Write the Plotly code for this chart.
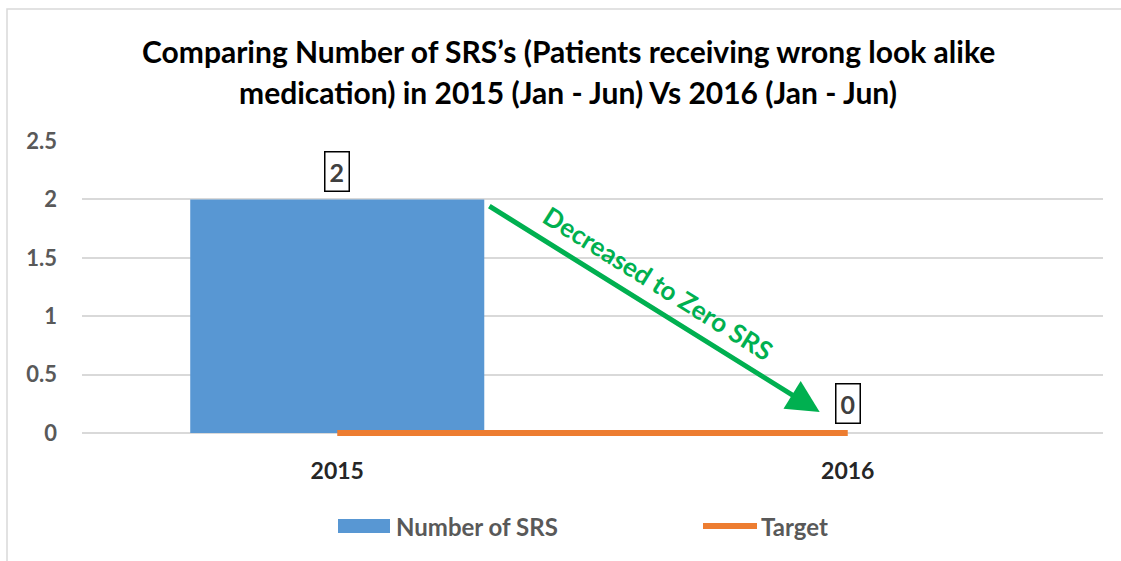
import plotly.graph_objects as go

categories = ["2015", "2016"]
srs_values = [2, 0]
target_values = [0, 0]
series_names = ["Number of SRS", "Target"]
title_lines = ["Comparing Number of SRS’s (Patients receiving wrong look alike",
               "medication) in 2015 (Jan - Jun) Vs 2016 (Jan - Jun)"]
arrow_text = "Decreased to Zero SRS"
y_ticks = [0, 0.5, 1, 1.5, 2, 2.5]

FONT = "Lato"
W, H = 1121, 561
L, R, T, B = 82, 18, 141, 125
PW, PH = W - L - R, H - T - B


def px(x):
    return (x - L) / PW


def py(y):
    return (H - B - y) / PH


fig = go.Figure()
fig.add_trace(go.Bar(
    x=categories, y=srs_values, name=series_names[0],
    marker=dict(color="#5897D3", line=dict(width=0)),
    showlegend=False,
))
fig.add_trace(go.Scatter(
    x=categories, y=target_values, name=series_names[1], mode="lines",
    line=dict(color="#ED7D31", width=6), showlegend=False,
))

# data labels
for i, v in enumerate(srs_values):
    fig.add_annotation(
        x=i, y=v, text=f"<b>{v}</b>", showarrow=False, yanchor="bottom",
        yshift=7 if v > 0 else 9,
        font=dict(family=FONT, size=25, color="#404040"),
        bordercolor="#000000", borderwidth=1.5, borderpad=4, bgcolor="white",
    )

# arrow
fig.add_annotation(
    x=0.945, y=0.18, ax=0.295, ay=1.95, xref="x", yref="y", axref="x", ayref="y",
    text="", showarrow=True, arrowhead=2, arrowsize=1.3, arrowwidth=5,
    arrowcolor="#00B050",
)
fig.add_annotation(
    x=px(658), y=py(283), xref="paper", yref="paper", text=f"<b>{arrow_text}</b>",
    showarrow=False, textangle=32,
    font=dict(family=FONT, size=26, color="#00B050"),
)

# title
for i, line in enumerate(title_lines):
    fig.add_annotation(
        x=px(568), y=py(51 + 41 * i), xref="paper", yref="paper",
        text=f"<b>{line}</b>", showarrow=False, xanchor="center", yanchor="middle",
        font=dict(family=FONT, size=30, color="#000000"),
    )

# legend (manual)
fig.add_shape(type="rect", xref="paper", yref="paper",
              x0=px(338), x1=px(390), y0=py(533), y1=py(519),
              fillcolor="#5897D3", line=dict(width=0))
fig.add_annotation(x=px(394), y=py(526), xref="paper", yref="paper",
                   text=f"<b>{series_names[0]}</b>", showarrow=False,
                   xanchor="left", yanchor="middle",
                   font=dict(family=FONT, size=24, color="#595959"))
fig.add_shape(type="line", xref="paper", yref="paper",
              x0=px(703), x1=px(757), y0=py(526), y1=py(526),
              line=dict(color="#ED7D31", width=6))
fig.add_annotation(x=px(759), y=py(526), xref="paper", yref="paper",
                   text=f"<b>{series_names[1]}</b>", showarrow=False,
                   xanchor="left", yanchor="middle",
                   font=dict(family=FONT, size=24, color="#595959"))

# outer frame
fig.add_shape(type="rect", xref="paper", yref="paper",
              x0=px(7), x1=px(1140), y0=py(600), y1=py(9),
              line=dict(color="#D9D9D9", width=1.5), layer="below")

fig.update_layout(
    width=W, height=H,
    margin=dict(l=L, r=R, t=T, b=B),
    plot_bgcolor="white", paper_bgcolor="white",
    bargap=0.424, showlegend=False,
    font=dict(family=FONT),
)
fig.update_xaxes(
    type="category", categoryorder="array", categoryarray=categories,
    range=[-0.5, 1.5], showgrid=False, showline=False, zeroline=False,
    tickfont=dict(family=FONT, size=23, color="#262626"),
    tickprefix="<b>", ticksuffix="</b>", ticklabelstandoff=19, ticks="",
)
fig.update_yaxes(
    range=[-0.025, 2.5], tickvals=y_ticks, ticktext=[f"<b>{t:g}</b>" for t in y_ticks],
    showgrid=True, gridcolor="#D9D9D9", gridwidth=1.5, zeroline=False,
    tickfont=dict(family=FONT, size=22, color="#595959"), ticklabelstandoff=24,
    ticks="",
)

fig.write_html("out.html", config={"displayModeBar": False},
               post_script="document.body.style.margin='0';document.body.style.padding='0';")
